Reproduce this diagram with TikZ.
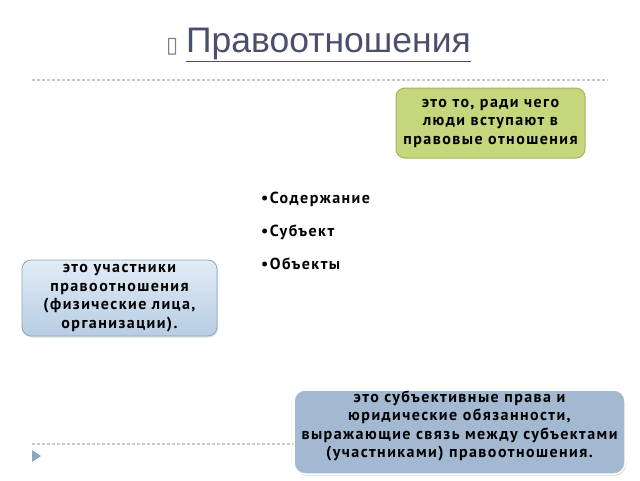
\documentclass[tikz,border=0pt]{standalone}
\usepackage{fontspec}
\setmainfont{PT Sans}
\newfontfamily\titlefont{Liberation Sans}
\newfontfamily\symfont{DejaVu Sans}
\newfontfamily\boxfont[LetterSpace=9]{PT Sans Bold}
\usetikzlibrary{shadows}
\definecolor{titlecol}{HTML}{4B4F6B}
\definecolor{dotcol}{HTML}{C8C8C8}
\definecolor{greenfill}{HTML}{C6D67C}
\definecolor{greenline}{HTML}{A3B45A}
\definecolor{bluetop}{HTML}{E2ECF7}
\definecolor{bluebot}{HTML}{B7CCE3}
\definecolor{blueline}{HTML}{8FA6BF}
\definecolor{steelfill}{HTML}{A3B9D1}
\definecolor{tricol}{HTML}{8CA6C2}
\tikzset{
  x=1pt, y=-1pt,
  boxtext/.style={font=\boxfont\fontsize{16}{18.5}\selectfont, align=center, text=black},
  greenbox/.style={boxtext, draw=greenline, line width=1pt, fill=greenfill, rounded corners=9pt, inner sep=0pt},
  bluebox/.style={boxtext, draw=blueline, line width=0.8pt, top color=bluetop, bottom color=bluebot, rounded corners=9pt, inner sep=0pt, drop shadow={opacity=0.25, shadow xshift=1pt, shadow yshift=-1.5pt}},
  steelbox/.style={boxtext, draw=white, line width=1.5pt, fill=steelfill, rounded corners=11pt, inner sep=0pt, drop shadow={opacity=0.3, shadow xshift=1pt, shadow yshift=-1.5pt}},
  bullet/.style={font=\boxfont\fontsize{16}{16}\selectfont, anchor=west, text=black, inner sep=0pt},
  dotline/.style={dotcol, line width=1.2pt, dash pattern=on 2.5pt off 2.5pt}
}
\begin{document}
\begin{tikzpicture}
\useasboundingbox (0,0) rectangle (640,480);
% title
\node[anchor=base west, font=\symfont\fontsize{22}{22}\selectfont, text=gray, inner sep=0pt] (sym) at (166,52) {▯};
\node[anchor=base west, font=\titlefont\fontsize{35.5}{35.5}\selectfont, text=titlecol, inner sep=0pt] (title) at (186,52) {\underline{Правоотношения}};
% dotted lines
\coordinate (d1a) at (32,80); \coordinate (d1b) at (608,80);
\draw[dotline] (d1a) -- (d1b);
\coordinate (d2a) at (32,444); \coordinate (d2b) at (300,444);
\draw[dotline] (d2a) -- (d2b);
% triangle
\fill[tricol] (32,450) -- (41,456) -- (32,462) -- cycle;
% green box
\node[greenbox, minimum width=189pt, minimum height=70pt] (g) at (490.5,123) {это то, ради чего\\люди вступают в\\правовые отношения};
% bullets
\node[bullet] (b1) at (261,199) {•Содержание};
\node[bullet] (b2) at (261,232) {•Субъект};
\node[bullet] (b3) at (261,264) {•Объекты};
% left blue box
\node[bluebox, minimum width=195pt, minimum height=76pt] (l) at (119.5,298) {это участники\\правоотношения\\(физические лица,\\организации).};
% bottom steel box
\draw[steelbox] (294,390) rectangle (625,474);
\node[boxtext, anchor=north] (s) at (459.5,387) {это субъективные права и\\юридические обязанности,\\выражающие связь между субъектами\\(участниками) правоотношения.};
\end{tikzpicture}
\end{document}
